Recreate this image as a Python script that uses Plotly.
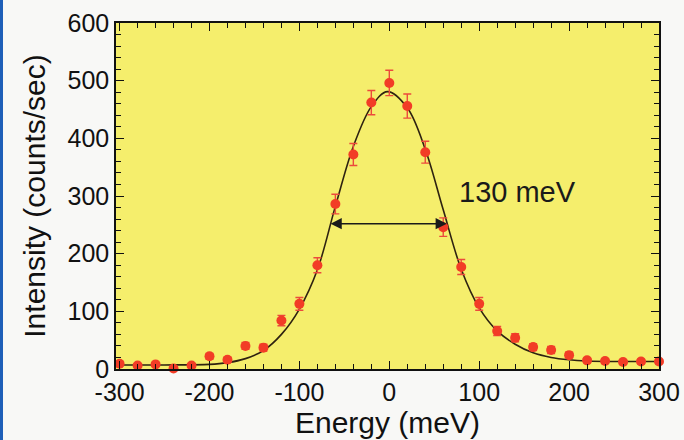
import plotly.graph_objects as go

# Measured data points (energy in meV, intensity in counts/sec)
energy = [-300, -280, -260, -240, -220, -200, -180, -160, -140, -120, -100, -80, -60, -40, -20, 0,
          20, 40, 60, 80, 100, 120, 140, 160, 180, 200, 220, 240, 260, 280, 300]
intensity = [9, 6, 8, 1, 6, 22, 16, 40, 37, 84, 113, 180, 286, 372, 462, 496,
             456, 376, 246, 177, 113, 66, 54, 38, 33, 24, 15, 14, 12, 13, 13]
error = [3, 3, 3, 2, 3, 5, 4, 6, 6, 9, 11, 13, 17, 19, 21, 22,
         21, 19, 16, 13, 11, 8, 7, 6, 6, 5, 4, 4, 3, 4, 4]

# Fit curve
fit_x = [-300, -250, -200, -180, -160, -140, -120, -100, -80, -60, -40, -20, -2,
         20, 40, 60, 80, 100, 120, 140, 160, 180, 200, 220, 250, 300]
fit_y = [7, 7, 8, 11, 18, 32, 60, 104, 172, 282, 386, 455, 481,
         453, 381, 276, 173, 106, 66, 43, 28, 20, 16, 14, 13, 13]

# FWHM marker
fwhm_left = -67
fwhm_right = 64
half_max = 252
fwhm_label = "130 meV"
label_pos = (143, 307)

x_ticks = [-300, -200, -100, 0, 100, 200, 300]
y_ticks = [0, 100, 200, 300, 400, 500, 600]

FONT = "Liberation Sans, Arial, Helvetica, sans-serif"

fig = go.Figure()
fig.add_trace(go.Scatter(
    x=fit_x, y=fit_y, mode="lines", line=dict(color="#2e2210", width=1.6, shape="spline", smoothing=1.0),
    hoverinfo="skip", showlegend=False))
fig.add_trace(go.Scatter(
    x=energy, y=intensity, mode="markers",
    marker=dict(color="#f23c26", size=10, line=dict(width=0)),
    error_y=dict(type="data", array=error, visible=True, color="#ec4a3c", thickness=1.4, width=4),
    cliponaxis=False, showlegend=False))

fig.add_annotation(
    x=fwhm_right, y=half_max, ax=fwhm_left, ay=half_max, xref="x", yref="y", axref="x", ayref="y",
    text="", showarrow=True, arrowhead=2, startarrowhead=2, arrowside="end+start",
    arrowsize=1.6, startarrowsize=1.6, arrowwidth=1.4, arrowcolor="#1a1a1a")
fig.add_annotation(
    x=label_pos[0], y=label_pos[1], xref="x", yref="y", text=fwhm_label, showarrow=False,
    font=dict(family=FONT, size=29, color="#1a1a1a"))

# blue strip at the left edge of the scan
fig.add_shape(type="rect", xref="paper", yref="paper", xsizemode="pixel", ysizemode="pixel",
              xanchor=0, yanchor=0, x0=-116, x1=-113, y0=-75, y1=380,
              fillcolor="#1f5fb8", line=dict(width=0), layer="above")

axis_common = dict(
    showline=True, linecolor="#111111", linewidth=1.5, mirror="ticks",
    ticks="inside", ticklen=8, tickwidth=1.3, tickcolor="#111111",
    showgrid=False, zeroline=False, automargin=False,
    tickfont=dict(family=FONT, size=25, color="#111111"),
)

fig.update_xaxes(
    range=[-304, 300], tickvals=x_ticks, ticktext=[str(v) for v in x_ticks],
    minor=dict(dtick=20, ticks="inside", ticklen=5, tickwidth=1.1, tickcolor="#111111", showgrid=False),
    title=dict(text="Energy (meV)", font=dict(family=FONT, size=30, color="#111111"), standoff=0),
    **axis_common)
fig.update_yaxes(
    range=[0, 600], tickvals=y_ticks, ticktext=[str(v) for v in y_ticks],
    minor=dict(dtick=20, ticks="inside", ticklen=5, tickwidth=1.1, tickcolor="#111111", showgrid=False),
    title=dict(text="Intensity (counts/sec)", font=dict(family=FONT, size=30, color="#111111"), standoff=13),
    **axis_common)

fig.update_layout(
    width=684, height=440,
    margin=dict(l=116, r=25, t=23, b=71),
    paper_bgcolor="#f8f8f6", plot_bgcolor="#f5ee6c",
    showlegend=False,
)

fig.write_html("out.html", config={"displayModeBar": False},
               post_script="document.body.style.margin='0';document.body.style.overflow='hidden';")
